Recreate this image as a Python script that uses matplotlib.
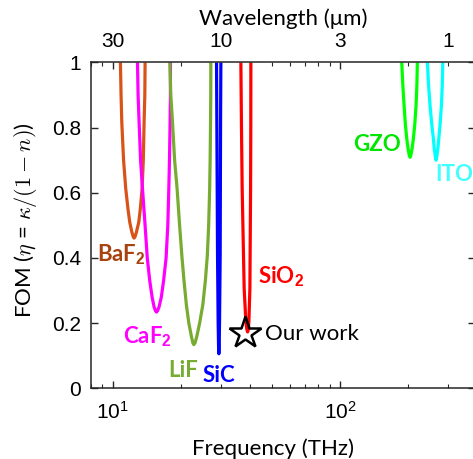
import matplotlib
matplotlib.use("Agg")
import matplotlib.pyplot as plt
from matplotlib.ticker import LogLocator, FixedLocator, FixedFormatter, NullFormatter

# ---------------- data ----------------
# frequency in THz, FOM eta = kappa/(1-n)
baf2_f = [10.81, 10.88, 10.96, 11.16, 11.41, 11.67, 11.88, 12.13, 12.31, 12.41,
          12.53, 12.72, 13.02, 13.22, 13.46, 13.63, 13.74, 13.84, 13.88]
baf2_y = [1.00, 0.90, 0.817, 0.70, 0.612, 0.55, 0.51, 0.48, 0.465, 0.461,
          0.465, 0.48, 0.51, 0.55, 0.612, 0.70, 0.817, 0.90, 1.00]

caf2_f = [12.85, 12.93, 13.06, 13.26, 13.52, 13.88, 14.19, 14.55, 14.90, 15.20, 15.42, 15.58,
          15.75, 15.99, 16.36, 16.74, 17.17, 17.47, 17.65, 17.77, 17.88, 17.94, 17.95]
caf2_y = [1.00, 0.90, 0.817, 0.70, 0.612, 0.50, 0.40, 0.33, 0.28, 0.25, 0.238, 0.234,
          0.238, 0.25, 0.28, 0.33, 0.40, 0.50, 0.612, 0.70, 0.817, 0.90, 1.00]

lif_f = [17.83, 18.01, 18.32, 18.72, 19.20, 19.69, 20.14, 20.59, 21.08, 21.62, 22.18, 22.51, 22.74,
         23.04, 23.45, 24.12, 24.92, 25.56, 26.08, 26.43, 26.70, 26.83, 26.94, 27.00, 27.02]
lif_y = [1.00, 0.90, 0.817, 0.70, 0.612, 0.50, 0.408, 0.33, 0.257, 0.20, 0.16, 0.14, 0.134,
         0.14, 0.16, 0.20, 0.257, 0.33, 0.408, 0.50, 0.612, 0.70, 0.817, 0.90, 1.00]

sic_f = [28.63, 28.72, 28.92, 29.10, 29.22, 29.31, 29.40, 29.51, 29.70, 29.82, 29.91]
sic_y = [1.00, 0.817, 0.408, 0.203, 0.13, 0.106, 0.13, 0.203, 0.408, 0.817, 1.00]

sio2_f = [36.63, 36.86, 37.12, 37.88, 38.54, 38.95, 39.21, 39.48, 39.73, 40.14, 40.42, 40.51, 40.54]
sio2_y = [1.00, 0.80, 0.612, 0.306, 0.204, 0.18, 0.173, 0.18, 0.204, 0.306, 0.612, 0.80, 1.00]

gzo_f = [187.0, 189.1, 191.5, 194.0, 196.8, 199.4, 201.8, 203.5, 205.1, 207.6,
         210.4, 213.4, 216.2, 218.0, 219.1]
gzo_y = [1.00, 0.93, 0.868, 0.81, 0.766, 0.735, 0.715, 0.709, 0.715, 0.735,
         0.766, 0.81, 0.868, 0.93, 1.00]

ito_f = [242.5, 245.4, 249.2, 253.5, 257.7, 260.0, 262.7, 264.8, 267.0, 269.7,
         272.2, 275.8, 279.5, 282.0, 283.4]
ito_y = [1.00, 0.93, 0.868, 0.81, 0.766, 0.735, 0.713, 0.700, 0.713, 0.735,
         0.766, 0.81, 0.868, 0.93, 1.00]

our_work_f = [38.15]
our_work_y = [0.169]

materials = ["BaF$_\\mathbf{2}$", "CaF$_\\mathbf{2}$", "LiF", "SiC", "SiO$_\\mathbf{2}$", "GZO", "ITO"]
line_colors = ["#D95319", "#FF00FF", "#77AC30", "#0000FF", "#FF0000", "#00FF00", "#00FFFF"]
label_colors = ["#A8420E", "#FF00FF", "#77AC30", "#0000FF", "#FF0000", "#00E600", "#40FFFF"]

yticks = [0, 0.2, 0.4, 0.6, 0.8, 1]
ytick_labels = ["0", "0.2", "0.4", "0.6", "0.8", "1"]
xticks_major = [10, 100]
xtick_labels = ["$\\mathregular{10^{1}}$", "$\\mathregular{10^{2}}$"]
wavelength_ticks = [30, 10, 3, 1]          # micrometres
wavelength_labels = ["30", "10", "3", "1"]
C_UM_THZ = 300.0                             # c in um*THz

# ---------------- style ----------------
plt.rcParams["font.family"] = ["Lato", "DejaVu Sans"]
plt.rcParams["mathtext.fontset"] = "custom"
plt.rcParams["mathtext.rm"] = "Liberation Sans"
plt.rcParams["mathtext.it"] = "Liberation Sans:italic"
plt.rcParams["mathtext.bf"] = "Liberation Sans:bold"

TICKFONT = "Liberation Sans"
SPINE = "#262626"

fig = plt.figure(figsize=(4.73, 4.59), dpi=100)
ax = fig.add_axes([0.1918, 0.154, 0.8125, 0.7099])

series = [(baf2_f, baf2_y), (caf2_f, caf2_y), (lif_f, lif_y), (sic_f, sic_y),
          (sio2_f, sio2_y), (gzo_f, gzo_y), (ito_f, ito_y)]
for (f, y), c in zip(series, line_colors):
    ax.plot(f, y, color=c, lw=2.3, solid_joinstyle="round", solid_capstyle="butt")

ax.plot(our_work_f, our_work_y, marker="*", ms=24, mfc="none", mec="black", mew=1.8,
        linestyle="none", zorder=5)

ax.set_xscale("log")
ax.set_xlim(8.0, 393)
ax.set_ylim(0, 1)

for s in ax.spines.values():
    s.set_color(SPINE)
    s.set_linewidth(1.1)

ax.xaxis.set_major_locator(FixedLocator(xticks_major))
ax.xaxis.set_major_formatter(FixedFormatter(xtick_labels))
ax.xaxis.set_minor_locator(LogLocator(base=10, subs=[2, 3, 4, 5, 6, 7, 8, 9]))
ax.xaxis.set_minor_formatter(NullFormatter())
ax.set_yticks(yticks)
ax.set_yticklabels(ytick_labels)

ax.tick_params(which="both", direction="in", top=True, right=True, colors=SPINE)
ax.tick_params(which="major", length=5, width=1.0)
ax.tick_params(which="minor", length=3, width=0.8)
ax.tick_params(axis="y", labelsize=15, pad=7, labelcolor="black")
ax.tick_params(axis="x", labelsize=15, pad=9, labelcolor="black")
for lab in ax.get_xticklabels() + ax.get_yticklabels():
    lab.set_fontfamily(TICKFONT)

# top axis: wavelength
sec = ax.secondary_xaxis("top", functions=(lambda f: C_UM_THZ / f, lambda l: C_UM_THZ / l))
sec.xaxis.set_major_locator(FixedLocator(wavelength_ticks))
sec.xaxis.set_major_formatter(FixedFormatter(wavelength_labels))
sec.xaxis.set_minor_locator(FixedLocator([]))
sec.tick_params(which="both", length=0, pad=8, labelsize=15, labelcolor="black")
sec.spines["top"].set_visible(False)
for lab in sec.get_xticklabels():
    lab.set_fontfamily(TICKFONT)
sec.set_xlabel("Wavelength (\u03bcm)", fontsize=16, labelpad=5)

ax.set_xlabel("Frequency (THz)", fontsize=16)
ax.xaxis.set_label_coords(0.474, -0.184)
ax.xaxis.label.set_va("center")

ylab = ax.set_ylabel("FOM ($\\eta$ = $\\kappa/(1-n)$)", fontsize=16)
ylab.set_math_fontfamily("cm")
ax.yaxis.set_label_coords(-0.171, 0.517)
ax.yaxis.label.set_va("center")

# material labels (axes-fraction positions, baseline aligned)
label_pos = [(0.016, 0.391), (0.084, 0.138), (0.201, 0.036), (0.292, 0.018),
             (0.435, 0.322), (0.682, 0.728), (0.897, 0.637)]
for name, col, (px, py) in zip(materials, label_colors, label_pos):
    ax.text(px, py, name, transform=ax.transAxes, color=col, fontsize=16,
            fontweight="bold", ha="left", va="baseline")

ax.text(0.4536, 0.148, "Our work", transform=ax.transAxes, color="black",
        fontsize=16, ha="left", va="baseline")

fig.savefig("out.png", dpi=100)
